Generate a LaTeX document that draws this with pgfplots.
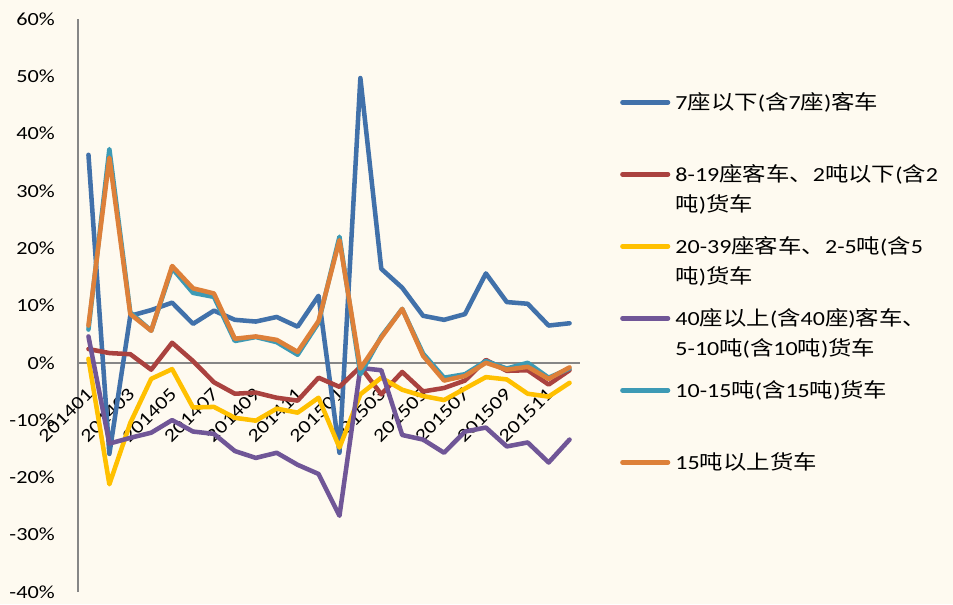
\documentclass[border=0pt]{standalone}
\usepackage{pgfplots}
\usepackage{pgfplotstable}
\pgfplotsset{compat=1.18}
\usepackage{fontspec}
\setmainfont{Carlito}[FakeStretch=1.2]
\newfontfamily\cjk{Noto Sans CJK SC}[FakeStretch=1.17]
\newcommand\tickfont{\fontsize{13.9pt}{16pt}\selectfont}
\newcommand\legfont{\fontsize{15pt}{22.5pt}\selectfont}

\definecolor{bgcream}{RGB}{254,250,240}
\definecolor{axisgray}{RGB}{134,134,134}
\definecolor{cblue}{RGB}{65,113,170}
\definecolor{cred}{RGB}{170,66,63}
\definecolor{cyellow}{RGB}{255,192,0}
\definecolor{cpurple}{RGB}{112,86,151}
\definecolor{cteal}{RGB}{61,154,181}
\definecolor{corange}{RGB}{221,128,57}

\pgfplotstableread{
x  blue  red  yellow purple teal orange
0  36.3  2.4   0.7   4.6   5.8   6.5
1 -15.9  1.7 -21.2 -14.1  37.3  35.8
2   8.2  1.5 -10.5 -13.1   8.8   8.5
3   9.2 -1.2  -2.8 -12.2   5.6   5.6
4  10.5  3.5  -1.1 -10.0  16.5  16.9
5   6.8  0.3  -7.8 -12.0  12.2  13.0
6   9.1 -3.4  -7.7 -12.4  11.5  12.1
7   7.5 -5.4  -9.6 -15.4   3.8   4.2
8   7.2 -5.2 -10.1 -16.6   4.5   4.6
9   8.0 -6.1  -8.0 -15.7   3.6   4.0
10  6.3 -6.6  -8.7 -17.8   1.4   1.9
11 11.7 -2.6  -6.1 -19.4   7.0   7.3
12 -15.7 -4.2 -14.8 -26.7 22.0  21.4
13 49.7 -0.7  -5.5  -0.9  -2.0  -1.0
14 16.4 -5.5  -2.6  -1.3   4.6   4.4
15 13.1 -1.6  -4.7 -12.6   9.4   9.4
16  8.2 -5.0  -5.8 -13.4   1.6   1.2
17  7.5 -4.4  -6.5 -15.7  -2.6  -3.1
18  8.5 -3.1  -4.5 -12.0  -2.0  -2.3
19 15.6  0.5  -2.5 -11.3   0.3   0.0
20 10.6 -1.4  -2.9 -14.6  -1.0  -1.2
21 10.3 -1.3  -5.4 -13.9   0.0  -0.7
22  6.5 -3.8  -5.9 -17.4  -2.6  -2.8
23  6.9 -1.3  -3.5 -13.4  -1.0  -0.8
}\data

\newcommand\legbox[1]{\parbox[t][54pt][t]{210pt}{\strut #1}}
\newcommand\legA{\legbox{7{\cjk 座以下}({\cjk 含}7{\cjk 座}){\cjk 客车}}}
\newcommand\legB{\legbox{8-19{\cjk 座客车、}2{\cjk 吨以下}({\cjk 含}2\\{\cjk 吨}){\cjk 货车}}}
\newcommand\legC{\legbox{20-39{\cjk 座客车、}2-5{\cjk 吨}({\cjk 含}5\\{\cjk 吨}){\cjk 货车}}}
\newcommand\legD{\legbox{40{\cjk 座以上}({\cjk 含}40{\cjk 座}){\cjk 客车、}\\5-10{\cjk 吨}({\cjk 含}10{\cjk 吨}){\cjk 货车}}}
\newcommand\legE{\legbox{10-15{\cjk 吨}({\cjk 含}15{\cjk 吨}){\cjk 货车}}}
\newcommand\legF{\legbox{15{\cjk 吨以上货车}}}

\begin{document}
\begin{tikzpicture}
\path[use as bounding box, fill=bgcream] (0,0) rectangle (714.75pt,453pt);
\begin{axis}[
  at={(58.5pt,9pt)}, anchor=south west,
  scale only axis, width=376.5pt, height=429.75pt,
  xmin=-0.5, xmax=23.5, ymin=-40, ymax=60,
  axis x line=middle, axis y line=left,
  axis line style={-, draw=axisgray, line width=1.1pt},
  hide obscured x ticks=false, hide obscured y ticks=false,
  major tick length=0pt,
  ytick={-40,-30,...,60},
  yticklabel={\pgfmathprintnumber{\tick}\%},
  /pgf/number format/assume math mode=true,
  yticklabel style={font=\tickfont, anchor=east, inner sep=0pt, xshift=-17.25pt},
  xtick={0,2,...,22},
  xticklabels={201401,201403,201405,201407,201409,201411,201501,201503,201505,201507,201509,201511},
  xticklabel style={font=\tickfont, inner sep=0pt, yshift=-21.5pt, xshift=1pt, rotate=45, anchor=east},
  every axis plot/.append style={line width=3.4pt, line join=round, line cap=round, no markers},
  legend style={at={(1.0800,0.8792)}, anchor=north west, draw=none, fill=none,
    inner sep=0pt, outer sep=0pt, row sep=0pt, column sep=3.9pt, font=\legfont,
    nodes={inner sep=0pt, outer sep=0pt, text depth=, text height=}, cells={anchor=base west}},
  legend image code/.code={\draw[#1, line width=3.4pt, line cap=round] (1.65pt,5.2pt) -- (35.85pt,5.2pt);},
]
\addplot[cblue] table[x=x,y=blue]{\data};
\addlegendentry{\legA}
\addplot[cred] table[x=x,y=red]{\data};
\addlegendentry{\legB}
\addplot[cyellow] table[x=x,y=yellow]{\data};
\addlegendentry{\legC}
\addplot[cpurple] table[x=x,y=purple]{\data};
\addlegendentry{\legD}
\addplot[cteal] table[x=x,y=teal]{\data};
\addlegendentry{\legE}
\addplot[corange] table[x=x,y=orange]{\data};
\addlegendentry{\legF}
\end{axis}
\end{tikzpicture}
\end{document}
